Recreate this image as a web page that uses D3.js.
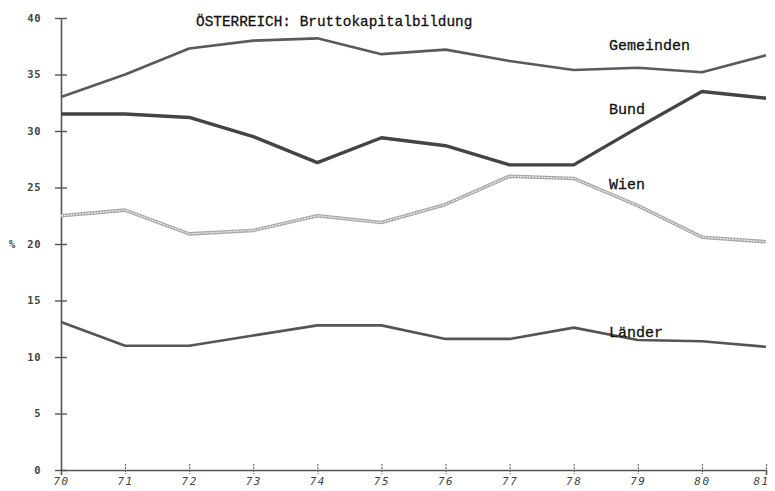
<!DOCTYPE html>
<html>
<head>
<meta charset="utf-8">
<script src="https://cdn.jsdelivr.net/npm/d3@7"></script>
<style>
  body { margin: 0; background: #fff; }
  svg { display: block; }
</style>
</head>
<body>
<div id="chart"></div>
<script>
// Data (share of gross capital formation, %)
const years = [70, 71, 72, 73, 74, 75, 76, 77, 78, 79, 80, 81];
const gemeinden = [33.0, 35.0, 37.3, 38.0, 38.2, 36.8, 37.2, 36.2, 35.4, 35.6, 35.2, 36.7];
const bund      = [31.5, 31.5, 31.2, 29.5, 27.2, 29.4, 28.7, 27.0, 27.0, 30.3, 33.5, 32.9];
const wien      = [22.5, 23.0, 20.9, 21.2, 22.5, 21.9, 23.5, 26.0, 25.8, 23.4, 20.6, 20.2];
const laender   = [13.1, 11.0, 11.0, 11.9, 12.8, 12.8, 11.6, 11.6, 12.6, 11.5, 11.4, 10.9];
const yTicks = [0, 5, 10, 15, 20, 25, 30, 35, 40];

const width = 775, height = 491;
const margin = { top: 18, right: 9, bottom: 21, left: 61 };
const innerWidth = width - margin.left - margin.right;
const innerHeight = height - margin.top - margin.bottom;

const svg = d3.select('#chart')
    .append('svg')
    .attr('width', width)
    .attr('height', height);

const g = svg.append('g')
    .attr('transform', `translate(${margin.left},${margin.top})`);

const xScale = d3.scaleLinear().domain([70, 81]).range([0, innerWidth]);
const yScale = d3.scaleLinear().domain([0, 40]).range([innerHeight, 0]);

const axisColor = '#555';

// Y axis: ticks cross the axis line
const yAxis = d3.axisLeft(yScale).tickValues(yTicks).tickSizeInner(6).tickSizeOuter(0).tickPadding(14);
const yG = g.append('g').call(yAxis);
yG.select('.domain').attr('stroke', axisColor).attr('stroke-width', 1.6);
yG.selectAll('.tick line').attr('stroke', axisColor).attr('stroke-width', 1.4).attr('x2', 6).attr('x1', -6);
yG.selectAll('.tick text')
    .attr('fill', '#444')
    .style('font-family', '"DejaVu Sans Mono", monospace')
    .style('font-weight', 'bold')
    .style('font-size', '10.5px')
    .style('letter-spacing', '0.5px');

// X axis
const xAxis = d3.axisBottom(xScale).tickValues(years).tickSizeOuter(0).tickSize(5).tickPadding(2).tickFormat(d => d);
const xG = g.append('g').attr('transform', `translate(0,${innerHeight})`).call(xAxis);
xG.select('.domain').attr('stroke', axisColor).attr('stroke-width', 1.6);
xG.selectAll('.tick line').attr('stroke', axisColor).attr('stroke-width', 1).attr('y1', -6).attr('y2', 4)
    .attr('stroke-dasharray', '2,1');
xG.selectAll('.tick text')
    .attr('fill', '#444')
    .style('font-family', '"DejaVu Sans Mono", monospace')
    .style('font-size', '11px')
    .style('font-style', 'italic')
    .style('letter-spacing', '1.5px')
    .attr('dx', (d, i) => i === years.length - 1 ? -5 : 0);

// % label
g.append('text')
    .attr('x', -52)
    .attr('y', yScale(20) + 4)
    .attr('fill', '#444')
    .style('font-family', '"DejaVu Sans Mono", monospace')
    .style('font-size', '10.5px')
    .style('font-weight', 'bold')
    .text('%');

const line = d3.line()
    .x((d, i) => xScale(years[i]))
    .y(d => yScale(d));

// Series lines
g.append('path').datum(gemeinden).attr('d', line)
    .attr('fill', 'none').attr('stroke', '#5a5a5a').attr('stroke-width', 2.6).attr('stroke-linejoin', 'round');
g.append('path').datum(bund).attr('d', line)
    .attr('fill', 'none').attr('stroke', '#444').attr('stroke-width', 3.4).attr('stroke-linejoin', 'round');
g.append('path').datum(wien).attr('d', line)
    .attr('fill', 'none').attr('stroke', '#a8a8a8').attr('stroke-width', 3.6).attr('stroke-linejoin', 'round');
g.append('path').datum(wien).attr('d', line)
    .attr('fill', 'none').attr('stroke', '#eee').attr('stroke-width', 1.2).attr('stroke-dasharray', '2,1');
g.append('path').datum(laender).attr('d', line)
    .attr('fill', 'none').attr('stroke', '#555').attr('stroke-width', 2.6).attr('stroke-linejoin', 'round');

// Series labels
const labels = [
    { text: 'Gemeinden', value: 37.2 },
    { text: 'Bund', value: 31.5 },
    { text: 'Wien', value: 24.9 },
    { text: 'Länder', value: 11.8 }
];
g.selectAll('.series-label')
    .data(labels)
    .enter()
    .append('text')
    .attr('class', 'series-label')
    .attr('x', xScale(78.55))
    .attr('y', d => yScale(d.value))
    .attr('fill', '#111')
    .attr('stroke', '#111')
    .attr('stroke-width', 0.3)
    .style('font-family', '"Liberation Mono", "Courier New", monospace')
    .style('font-size', '15px')
    .text(d => d.text);

// Title
svg.append('text')
    .attr('x', 196)
    .attr('y', 26)
    .attr('fill', '#111')
    .attr('stroke', '#111')
    .attr('stroke-width', 0.3)
    .style('font-family', '"Liberation Mono", "Courier New", monospace')
    .style('font-size', '14.4px')
    .text('ÖSTERREICH: Bruttokapitalbildung');
</script>
</body>
</html>
